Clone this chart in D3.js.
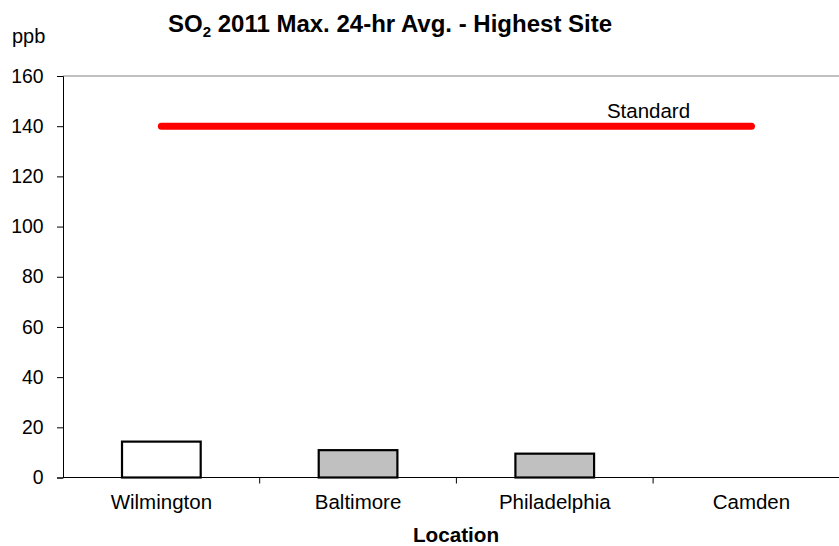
<!DOCTYPE html>
<html>
<head>
<meta charset="utf-8">
<script src="https://cdn.jsdelivr.net/npm/d3@7"></script>
<style>
  html, body { margin: 0; padding: 0; background: #fff; }
  svg { display: block; font-family: "Liberation Sans", Arial, sans-serif; }
</style>
</head>
<body>
<svg id="chart" width="839" height="546"></svg>
<script>
// SO2 2011 maximum 24-hour average, highest site per location (ppb)
const locations = ["Wilmington", "Baltimore", "Philadelphia", "Camden"];
const values = [14.3, 10.9, 9.5, null];
const barFills = ["#ffffff", "#c0c0c0", "#c0c0c0", "#c0c0c0"];
const standardValue = 140;
const yTicks = [0, 20, 40, 60, 80, 100, 120, 140, 160];

const svg = d3.select("#chart");
const plotLeft = 63, plotTop = 76, plotBottom = 477.5, bandW = 196.7;

const x = d3.scaleBand()
  .domain(locations)
  .range([plotLeft, plotLeft + bandW * locations.length])
  .padding(0);

const y = d3.scaleLinear().domain([0, 160]).range([plotBottom, plotTop]);

// plot area top border
svg.append("line")
  .attr("x1", plotLeft).attr("x2", 839)
  .attr("y1", y(160)).attr("y2", y(160))
  .attr("stroke", "#808080").attr("stroke-width", 1);

// y axis
const yAxis = svg.append("g")
  .attr("transform", `translate(${plotLeft},0)`)
  .call(d3.axisLeft(y).tickValues(yTicks).tickSize(6).tickPadding(13.5));
yAxis.select(".domain").attr("stroke", "#000");
yAxis.selectAll(".tick line").attr("stroke", "#000");
yAxis.selectAll(".tick text")
  .attr("font-size", 19.4).attr("fill", "#000")
  .attr("font-family", "Liberation Sans, Arial, sans-serif");

// bars
const barW = x.bandwidth() * 0.4;
svg.append("g").selectAll("rect")
  .data(locations.map((d, i) => ({ name: d, v: values[i], fill: barFills[i] }))
    .filter(d => d.v != null))
  .join("rect")
  .attr("x", d => x(d.name) + (x.bandwidth() - barW) / 2)
  .attr("width", barW)
  .attr("y", d => y(d.v))
  .attr("height", d => y(0) - y(d.v))
  .attr("fill", d => d.fill)
  .attr("stroke", "#000")
  .attr("stroke-width", 2.2);

// x axis
const xAxis = svg.append("g")
  .attr("transform", `translate(0,${plotBottom})`);
xAxis.append("line")
  .attr("x1", plotLeft).attr("x2", 839)
  .attr("y1", 0).attr("y2", 0)
  .attr("stroke", "#000").attr("stroke-width", 1);
xAxis.selectAll("line.tick")
  .data(locations.slice(1))
  .join("line").attr("class", "tick")
  .attr("x1", d => x(d)).attr("x2", d => x(d))
  .attr("y1", 0).attr("y2", 6)
  .attr("stroke", "#000");
xAxis.selectAll("text")
  .data(locations)
  .join("text")
  .attr("x", d => x(d) + x.bandwidth() / 2)
  .attr("y", 31.5)
  .attr("text-anchor", "middle")
  .attr("font-size", 20.5)
  .text(d => d);

// standard line from first to last category centre
const sx1 = x(locations[0]) + x.bandwidth() / 2;
const sx2 = x(locations[locations.length - 1]) + x.bandwidth() / 2;
svg.append("line")
  .attr("x1", sx1).attr("x2", sx2)
  .attr("y1", y(standardValue)).attr("y2", y(standardValue))
  .attr("stroke", "#ff0000").attr("stroke-width", 7)
  .attr("stroke-linecap", "round");
svg.append("text")
  .attr("x", 648.5).attr("y", y(standardValue) - 8.5)
  .attr("text-anchor", "middle")
  .attr("font-size", 20.5)
  .text("Standard");

// unit label
svg.append("text").attr("x", 12).attr("y", 43).attr("font-size", 20).text("ppb");

// title
const title = svg.append("text")
  .attr("x", 168).attr("y", 32)
  .attr("font-size", 24).attr("font-weight", "bold");
title.append("tspan").text("SO");
title.append("tspan").attr("font-size", 15).attr("dy", 5).text("2");
title.append("tspan").attr("dy", -5).text(" 2011 Max. 24-hr Avg. - Highest Site");

// x axis title
svg.append("text")
  .attr("x", 456).attr("y", 541.5)
  .attr("text-anchor", "middle")
  .attr("font-size", 20.7).attr("font-weight", "bold")
  .text("Location");
</script>
</body>
</html>
